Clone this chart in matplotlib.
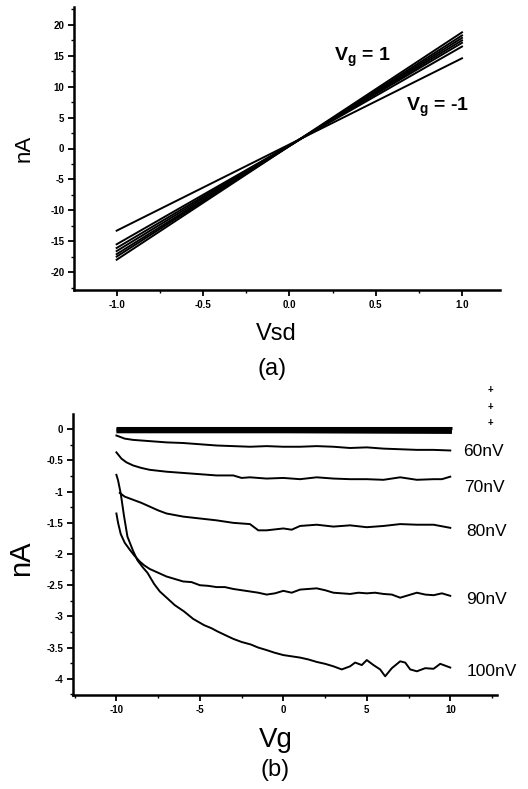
import matplotlib
matplotlib.use("Agg")
import matplotlib.pyplot as plt
from matplotlib.ticker import MultipleLocator, FuncFormatter

plt.rcParams['font.family'] = ['Liberation Sans', 'DejaVu Sans']
plt.rcParams['axes.unicode_minus'] = False
plt.rcParams['mathtext.fontset'] = 'custom'
plt.rcParams['mathtext.rm'] = 'Liberation Sans:bold'
plt.rcParams['mathtext.it'] = 'Liberation Sans:bold'
plt.rcParams['mathtext.bf'] = 'Liberation Sans:bold'

# ---------------- Panel (a) data: I-V lines (current at Vsd = -1 and +1) ----
vsd_ends = [-1.0, 1.0]
vg_a = [-1.0, -0.67, -0.33, 0.0, 0.33, 0.67, 1.0]
i_at_minus1 = [-13.3, -15.5, -16.1, -16.6, -17.1, -17.5, -18.0]
i_at_plus1 = [14.6, 16.5, 17.1, 17.5, 17.9, 18.3, 18.8]

# ---------------- Panel (b) data: I vs Vg --------------------------------
vg_top = [-10.0, -5.0, 0.0, 5.0, 10.1]
i_top_1 = [0.02, 0.02, 0.02, 0.02, 0.02]
i_top_2 = [-0.01, -0.01, -0.01, -0.01, -0.02]
i_top_3 = [-0.04, -0.04, -0.04, -0.045, -0.05]

vg_60 = [-10, -9.5, -9, -8, -7, -6, -5, -4, -3, -2, -1, 0, 1, 2, 3, 4, 5, 6, 7, 8, 9, 10]
i_60 = [-0.10, -0.15, -0.17, -0.19, -0.21, -0.22, -0.24, -0.26, -0.27, -0.28, -0.27,
        -0.28, -0.28, -0.27, -0.28, -0.30, -0.29, -0.31, -0.32, -0.33, -0.33, -0.34]

vg_70 = [-10, -9.7, -9.4, -9, -8.5, -8, -7, -6, -5, -4, -3, -2.5, -2, -1, 0, 1, 2, 3,
         4, 5, 6, 7, 8, 9, 9.5, 10]
i_70 = [-0.37, -0.47, -0.53, -0.58, -0.62, -0.65, -0.68, -0.70, -0.72, -0.74, -0.74,
        -0.78, -0.77, -0.79, -0.78, -0.80, -0.77, -0.79, -0.80, -0.80, -0.81, -0.77,
        -0.81, -0.80, -0.80, -0.76]

vg_80 = [-9.8, -9.5, -9, -8.5, -8, -7.5, -7, -6, -5, -4, -3, -2, -1.5, -1, 0, 0.5, 1,
         2, 3, 4, 5, 6, 7, 8, 9, 10]
i_80 = [-1.02, -1.08, -1.13, -1.18, -1.24, -1.30, -1.35, -1.40, -1.43, -1.46, -1.50,
        -1.52, -1.62, -1.62, -1.59, -1.61, -1.55, -1.53, -1.56, -1.54, -1.57, -1.55,
        -1.52, -1.53, -1.53, -1.58]

vg_90 = [-10, -9.9, -9.74, -9.5, -9.2, -8.94, -8.6, -8.34, -8, -7.5, -7, -6.5, -6,
         -5.5, -5, -4.5, -4, -3.5, -3, -2.5, -2, -1.5, -1, -0.5, 0, 0.5, 1, 1.5, 2,
         2.5, 3, 3.5, 4, 4.5, 5, 5.5, 6, 6.5, 7, 7.5, 8, 8.5, 9, 9.5, 10]
i_90 = [-1.35, -1.50, -1.68, -1.82, -1.93, -2.02, -2.12, -2.18, -2.24, -2.30, -2.36,
        -2.40, -2.44, -2.45, -2.50, -2.51, -2.53, -2.53, -2.56, -2.58, -2.60, -2.62,
        -2.65, -2.63, -2.59, -2.62, -2.57, -2.56, -2.55, -2.58, -2.62, -2.63, -2.64,
        -2.62, -2.63, -2.62, -2.64, -2.65, -2.70, -2.66, -2.62, -2.65, -2.66, -2.63,
        -2.67]

vg_100 = [-10, -9.9, -9.74, -9.55, -9.34, -9.0, -8.74, -8.4, -8.14, -7.74, -7.4,
          -6.95, -6.5, -5.95, -5.4, -4.75, -4.3, -3.95, -3.4, -3.0, -2.5, -1.95, -1.5,
          -1.0, -0.55, 0, 0.5, 1, 1.5, 2, 2.5, 3, 3.5, 4, 4.3, 4.7, 5, 5.4, 5.8, 6.1,
          6.5, 7, 7.3, 7.6, 8, 8.5, 9, 9.4, 9.7, 10]
i_100 = [-0.73, -0.82, -1.03, -1.38, -1.72, -1.95, -2.10, -2.22, -2.30, -2.48, -2.60,
         -2.71, -2.82, -2.92, -3.04, -3.14, -3.19, -3.24, -3.31, -3.36, -3.41, -3.45,
         -3.50, -3.54, -3.58, -3.62, -3.64, -3.66, -3.69, -3.73, -3.76, -3.80, -3.85,
         -3.80, -3.74, -3.78, -3.70, -3.78, -3.85, -3.96, -3.83, -3.72, -3.74, -3.85,
         -3.88, -3.83, -3.84, -3.76, -3.79, -3.82]

curve_labels = ['60nV', '70nV', '80nV', '90nV', '100nV']

W, H = 528, 789
fig = plt.figure(figsize=(W / 100, H / 100), dpi=100)


def fx(x):
    return x / W


def fy(y):
    return 1 - y / H


def style_axes(ax):
    for s in ['top', 'right']:
        ax.spines[s].set_visible(False)
    for s in ['left', 'bottom']:
        ax.spines[s].set_linewidth(1.8)
    ax.tick_params(which='major', direction='out', length=4, width=1.3,
                   labelsize=7, pad=3)
    ax.tick_params(which='minor', direction='out', length=2.5, width=1.0)
    for lab in ax.get_xticklabels() + ax.get_yticklabels():
        lab.set_fontweight('bold')


# ---------------- Panel (a) ----------------
axa = fig.add_axes([fx(74), fy(290), fx(500) - fx(74), fy(7) - fy(290)])
for lo, hi in zip(i_at_minus1, i_at_plus1):
    axa.plot(vsd_ends, [lo, hi], color='black', lw=1.4)
axa.set_xlim(-1.247, 1.22)
axa.set_ylim(-22.9, 22.9)
axa.xaxis.set_major_locator(MultipleLocator(0.5))
axa.xaxis.set_minor_locator(MultipleLocator(0.25))
axa.yaxis.set_major_locator(MultipleLocator(5))
axa.yaxis.set_minor_locator(MultipleLocator(2.5))
axa.xaxis.set_major_formatter(FuncFormatter(lambda v, p: '%.1f' % v))
axa.yaxis.set_major_formatter(FuncFormatter(lambda v, p: '%d' % round(v)))
style_axes(axa)

axa.text(fx(334), fy(57), r'$V_g$ = 1', transform=fig.transFigure,
         fontsize=14, fontweight='bold', ha='left', va='center')
axa.text(fx(406), fy(107), r'$V_g$ = -1', transform=fig.transFigure,
         fontsize=14, fontweight='bold', ha='left', va='center')

fig.text(fx(24), fy(148), 'nA', rotation=90, fontsize=16, ha='center', va='center')
fig.text(fx(276), fy(334), 'Vsd', fontsize=17, ha='center', va='center')
fig.text(fx(272), fy(369), '(a)', fontsize=17, ha='center', va='center')

# ---------------- Panel (b) ----------------
axb = fig.add_axes([fx(73), fy(695), fx(497) - fx(73), fy(414) - fy(695)])
for it in [i_top_1, i_top_2, i_top_3]:
    axb.plot(vg_top, it, color='black', lw=2.2, solid_capstyle='butt')
series_b = [(vg_60, i_60), (vg_70, i_70), (vg_80, i_80), (vg_90, i_90), (vg_100, i_100)]
for xs, ys in series_b:
    axb.plot(xs, ys, color='black', lw=1.4)
axb.set_xlim(-12.6, 12.8)
axb.set_ylim(-4.26, 0.245)
axb.xaxis.set_major_locator(MultipleLocator(5))
axb.xaxis.set_minor_locator(MultipleLocator(2.5))
axb.yaxis.set_major_locator(MultipleLocator(0.5))
axb.yaxis.set_minor_locator(MultipleLocator(0.25))
axb.xaxis.set_major_formatter(FuncFormatter(lambda v, p: '%g' % v))
axb.yaxis.set_major_formatter(FuncFormatter(lambda v, p: '%g' % round(v, 2)))
style_axes(axb)

label_y = [452, 487, 532, 600, 671]
label_x = [463, 464, 466, 466, 467]
for lab, lx, ly in zip(curve_labels, label_x, label_y):
    fig.text(fx(lx), fy(ly), lab, fontsize=12.5, ha='left', va='center')

for py in [390, 407, 423]:
    fig.text(fx(490), fy(py), '+', fontsize=7, fontweight='bold', ha='center', va='center')

fig.text(fx(21), fy(558), 'nA', rotation=90, fontsize=21, ha='center', va='center')
fig.text(fx(276), fy(740), 'Vg', fontsize=20, ha='center', va='center')
fig.text(fx(275), fy(770), '(b)', fontsize=17, ha='center', va='center')

fig.savefig('out.png', dpi=100)
